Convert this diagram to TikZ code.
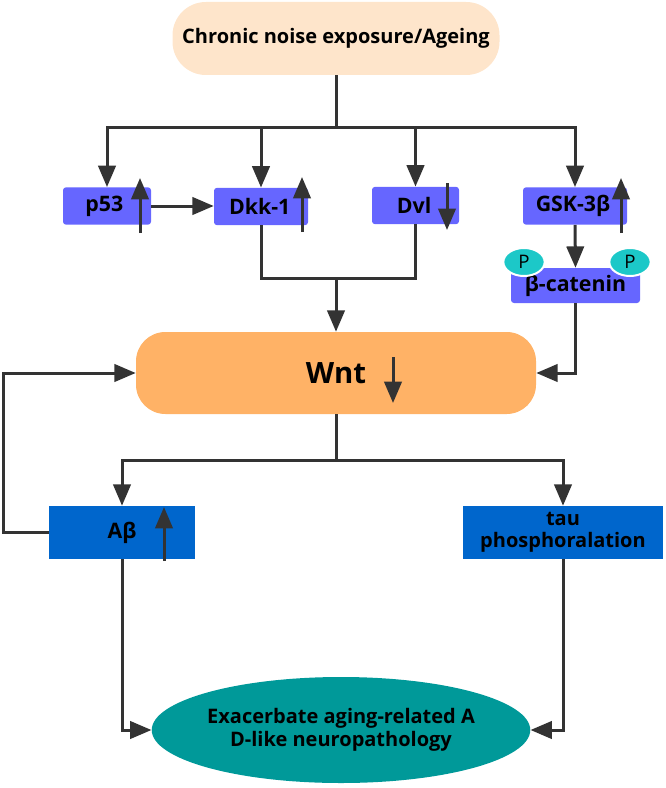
\documentclass[tikz,border=0pt]{standalone}
\usepackage{fontspec}
\setmainfont{Open Sans}
\usetikzlibrary{arrows.meta,shapes.geometric}
\definecolor{lc}{HTML}{333333}
\definecolor{peach}{HTML}{FEE5CB}
\definecolor{violetbox}{HTML}{6666FF}
\definecolor{bluebox}{HTML}{0066CC}
\definecolor{orangebox}{HTML}{FFB266}
\definecolor{tealell}{HTML}{009999}
\definecolor{pcol}{HTML}{1CC8C8}
\tikzset{
  ln/.style={draw=lc, line width=2.25pt},
  arr/.style={draw=lc, line width=2.25pt, -{Triangle[length=16pt,width=13pt]}},
  lab/.style={font=\fontsize{15}{18}\selectfont\bfseries, text=black, inner sep=0pt, align=center},
  pbox/.style={lab, font=\fontsize{16}{18}\selectfont\bfseries, fill=violetbox, rounded corners=2.25pt, minimum height=28pt},
  bbox/.style={lab, fill=bluebox, minimum height=39.75pt},
  pell/.style={ellipse, fill=pcol, draw=white, line width=1.5pt, minimum width=31pt, minimum height=21pt, inner sep=0pt, font=\fontsize{14}{16}\selectfont, text=black}
}
\begin{document}
\begin{tikzpicture}[x=0.75pt,y=-0.75pt]
\path[use as bounding box] (0,0) rectangle (666,788);
% nodes
\node[lab, fill=peach, rounded corners=25pt, minimum width=245.25pt, minimum height=54.75pt] (top) at (336,38.5) {Chronic noise exposure/Ageing};
\node[pbox, minimum width=66pt] (p53) at (107,206) {p53\hspace*{4pt}};
\node[pbox, minimum width=70.5pt] (dkk) at (261,206.5) {Dkk-1\hspace*{2pt}};
\node[pbox, minimum width=65.25pt] (dvl) at (415.5,205.5) {Dvl\hspace*{2pt}};
\node[pbox, minimum width=78pt] (gsk) at (575,206) {GSK-3β\hspace*{3pt}};
\node[pbox, minimum width=96.75pt, minimum height=26.25pt] (bcat) at (575.5,285.5) {β-catenin};
\node[pell] (p1) at (524,262) {P};
\node[pell] (p2) at (630,262) {P};
\node[lab, fill=orangebox, rounded corners=22pt, minimum width=300pt, minimum height=61.5pt, font=\fontsize{22}{26}\selectfont\bfseries] (wnt) at (336,373) {Wnt};
\node[bbox, minimum width=109.5pt, font=\fontsize{16}{18}\selectfont\bfseries] (ab) at (122,532.5) {Aβ};
\node[bbox, minimum width=150pt, font=\fontsize{15}{16.5}\selectfont\bfseries] (tau) at (563,532.5) {tau\\phosphoralation};
\node[lab, ellipse, fill=tealell, minimum width=214.5pt, minimum height=79.5pt, font=\fontsize{15}{17}\selectfont\bfseries] (ell) at (341,730) {Exacerbate aging-related A\\D-like neuropathology};
% junctions
\coordinate (j1) at (336,128);
\coordinate (j2) at (336,278);
\coordinate (j3) at (336,460);
\coordinate (fb) at (3,532.5);
% connectors
\draw[ln] (top.south) -- (j1);
\draw[arr] (j1) -| (p53.north);
\draw[arr] (j1) -| (dkk.north);
\draw[arr] (j1) -| (dvl.north);
\draw[arr] (j1) -| (gsk.north);
\draw[arr] (p53.east) -- (dkk.west |- p53.east);
\draw[ln] (dkk.south) |- (j2);
\draw[ln] (dvl.south) |- (j2);
\draw[arr] (j2) -- (wnt.north);
\draw[arr] (gsk.south) -- (bcat.north);
\draw[arr] (bcat.south) |- (wnt.east);
\draw[ln] (wnt.south) -- (j3);
\draw[arr] (j3) -| (ab.north);
\draw[arr] (j3) -| (tau.north);
\draw[arr] (ab.west) -- (fb) |- (wnt.west);
\draw[arr] (ab.south) |- (ell.west);
\draw[arr] (tau.south) |- (ell.east);
% up/down indicators
\draw[arr] (140,233) -- (140,178);
\draw[arr] (302,232) -- (302,177);
\draw[arr] (447,183) -- (447,230);
\draw[arr] (621,233) -- (621,178);
\draw[arr] (393,357) -- (393,403);
\draw[arr] (164,561) -- (164,507);
\end{tikzpicture}
\end{document}
